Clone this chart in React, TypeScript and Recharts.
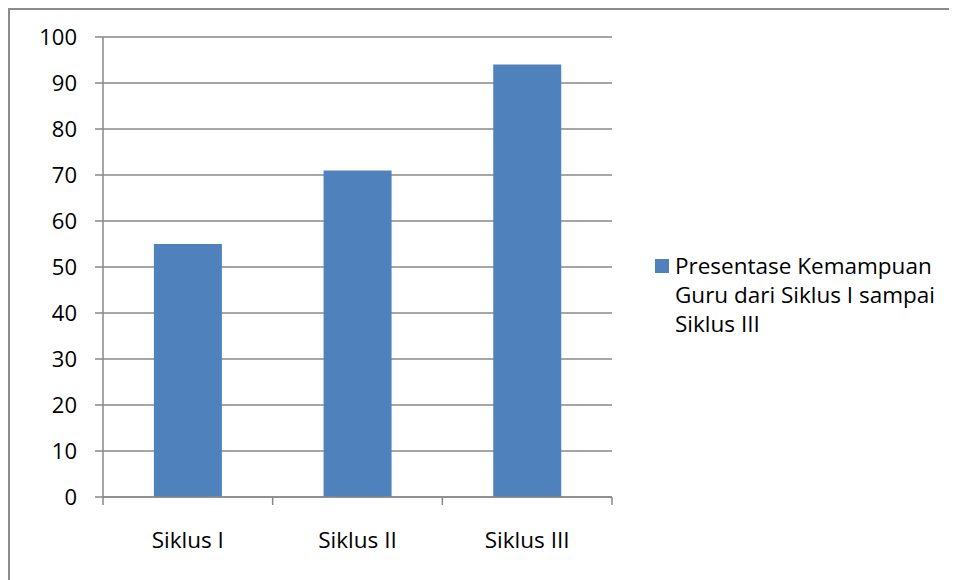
import { Bar, BarChart, CartesianGrid, Legend, XAxis, YAxis } from "recharts";

const categories = ["Siklus I", "Siklus II", "Siklus III"];
const values = [55, 71, 94];
const seriesName = "Presentase Kemampuan Guru dari Siklus I sampai Siklus III";
const yTicks = [0, 10, 20, 30, 40, 50, 60, 70, 80, 90, 100];

const W = 949;
const H = 572;
const margin = { top: 29, right: 345, bottom: 23, left: 0 };
const yAxisWidth = 95;
const gridColor = "#888888";
const barColor = "#4F81BD";
const font = "'Open Sans', Lato, sans-serif";

const data = categories.map((name, i) => ({ name, value: values[i] }));
const band = (W - margin.left - margin.right - yAxisWidth) / categories.length;

function XTick(props: any) {
  const { x, y, payload, index } = props;
  const last = index === categories.length - 1;
  return (
    <g>
      <line x1={x - band / 2} x2={x - band / 2} y1={y} y2={y + 8} stroke={gridColor} strokeWidth={1.5} />
      {last && <line x1={x + band / 2} x2={x + band / 2} y1={y} y2={y + 8} stroke={gridColor} strokeWidth={1.5} />}
      <text x={x} y={y + 51} textAnchor="middle" fill="#000" fontSize={22.5} fontFamily={font}>
        {payload.value}
      </text>
    </g>
  );
}

function LegendBox(props: any) {
  const item = (props.payload || [])[0];
  return (
    <div style={{ display: "flex", alignItems: "flex-start", fontFamily: font, fontSize: 22.5, lineHeight: "29px", color: "#000" }}>
      <div style={{ width: 14, height: 14, background: item?.color ?? barColor, marginTop: 8, marginRight: 6, flex: "none" }} />
      <div style={{ width: 285 }}>{item?.value ?? seriesName}</div>
    </div>
  );
}

export default function App() {
  return (
    <div style={{ position: "relative", width: W, height: H }}>
      <BarChart width={W} height={H} data={data} margin={margin} barCategoryGap="30%">
        <CartesianGrid vertical={false} stroke={gridColor} strokeWidth={1.5} />
        <XAxis
          dataKey="name"
          height={60}
          tickLine={false}
          tickSize={0}
          tickMargin={0}
          axisLine={{ stroke: gridColor, strokeWidth: 1.5 }}
          tick={<XTick />}
          interval={0}
        />
        <YAxis
          width={yAxisWidth}
          domain={[0, 100]}
          ticks={yTicks}
          interval={0}
          tickSize={8}
          tickMargin={18}
          tickLine={{ stroke: gridColor, strokeWidth: 1.5 }}
          axisLine={{ stroke: gridColor, strokeWidth: 1.5 }}
          tick={{ fill: "#000", fontSize: 22, fontFamily: font }}
        />
        <Legend
          layout="horizontal"
          verticalAlign="middle"
          align="center"
          content={<LegendBox />}
          wrapperStyle={{ left: 647, top: 243, width: 300 }}
        />
        <Bar dataKey="value" name={seriesName} fill={barColor} isAnimationActive={false} />
      </BarChart>
      <div
        style={{
          position: "absolute",
          left: 0,
          top: 0,
          width: W,
          height: H,
          borderTop: "2px solid #8c8c8c",
          borderLeft: "2px solid #8c8c8c",
          boxSizing: "border-box",
          pointerEvents: "none",
        }}
      />
    </div>
  );
}
